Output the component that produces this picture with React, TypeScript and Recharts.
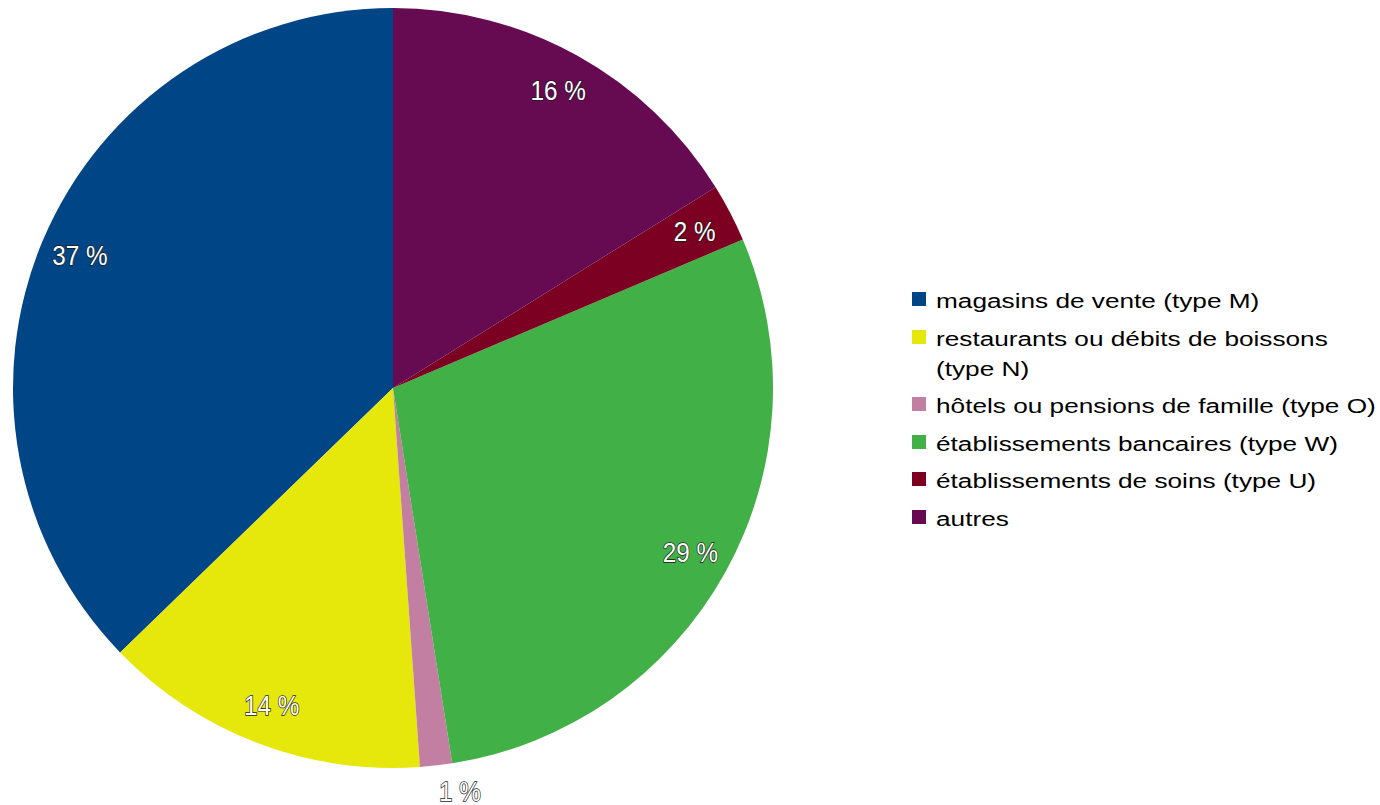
import React from 'react';
import { PieChart, Pie, Cell, Legend } from 'recharts';

// catégories, dans l'ordre de tracé (sens anti-horaire depuis midi)
const categories = [
    'magasins de vente (type M)',
    'restaurants ou débits de boissons (type N)',
    'hôtels ou pensions de famille (type O)',
    'établissements bancaires (type W)',
    'établissements de soins (type U)',
    'autres',
];
const shares = [37.25, 13.88, 1.36, 28.9, 2.47, 16.14];
const colors = ['#004586', '#e6e70b', '#c27fa1', '#41b047', '#7b0021', '#660a52'];

const data = categories.map((name, i) => ({ name, value: shares[i] }));

const RADIAN = Math.PI / 180;
const FONT = '"Liberation Sans", Arial, sans-serif';

const renderLabel = (props: any) => {
    const { cx, cy, midAngle, outerRadius, value } = props;
    const small = value < 1.5;
    const r = small ? outerRadius + 26 : outerRadius - 40;
    const x = cx + r * Math.cos(-midAngle * RADIAN);
    const y = cy + r * Math.sin(-midAngle * RADIAN);
    return (
        <text
            transform={`translate(${x},${y}) scale(0.9,1)`}
            x={0}
            y={0}
            textAnchor={small ? 'start' : 'middle'}
            dominantBaseline="central"
            fontFamily={FONT}
            fontSize={27}
            fill="#ffffff"
            stroke="#1a1a1a"
            strokeWidth={1.4}
            paintOrder="stroke"
        >
            {`${Math.round(value)} %`}
        </text>
    );
};

const renderLegend = () => (
    <div style={{ fontFamily: FONT, fontSize: 20, lineHeight: '30px', color: '#000' }}>
        {categories.map((name, i) => (
            <div key={name} style={{ position: 'relative', marginBottom: 7.5, height: i === 1 ? 60 : 30 }}>
                <span
                    style={{
                        position: 'absolute',
                        left: 0,
                        top: 6,
                        width: 14,
                        height: 14,
                        background: colors[i],
                    }}
                />
                <span
                    style={{
                        position: 'absolute',
                        left: 24,
                        top: 0,
                        width: 340,
                        transform: 'scaleX(1.31)',
                        transformOrigin: 'left top',
                        whiteSpace: 'normal',
                    }}
                >
                    {name}
                </span>
            </div>
        ))}
    </div>
);

const App: React.FC = () => {
    return (
        <div style={{ position: 'absolute', left: 0, top: 0, width: 1380, height: 805, background: '#fff' }}>
            <PieChart width={1380} height={805} margin={{ top: 0, right: 0, bottom: 0, left: 0 }}>
                <Pie
                    data={data}
                    dataKey="value"
                    nameKey="name"
                    cx={393}
                    cy={388}
                    outerRadius={380}
                    startAngle={90}
                    endAngle={450}
                    stroke="none"
                    label={renderLabel}
                    labelLine={false}
                    isAnimationActive={false}
                >
                    {data.map((d, i) => (
                        <Cell key={d.name} fill={colors[i]} />
                    ))}
                </Pie>
                <Legend
                    layout="vertical"
                    content={renderLegend}
                    wrapperStyle={{ position: 'absolute', left: 912, top: 286, width: 468, bottom: 'auto', right: 'auto' }}
                />
            </PieChart>
        </div>
    );
};

export default App;
